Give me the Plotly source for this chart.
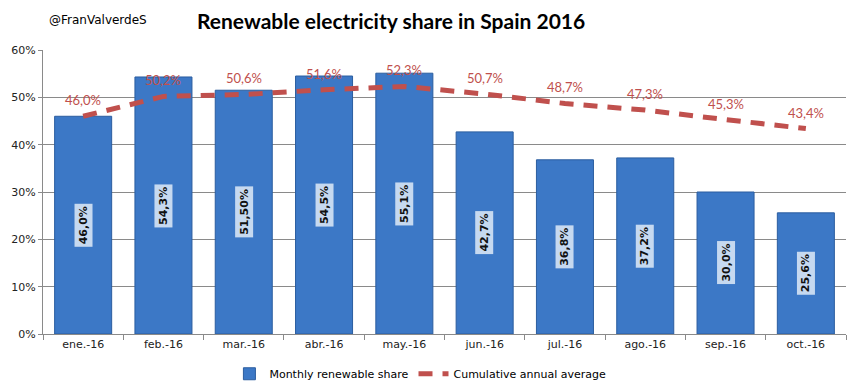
import plotly.graph_objects as go

months = ["ene.-16", "feb.-16", "mar.-16", "abr.-16", "may.-16",
          "jun.-16", "jul.-16", "ago.-16", "sep.-16", "oct.-16"]
monthly = [46.0, 54.3, 51.5, 54.5, 55.1, 42.7, 36.8, 37.2, 30.0, 25.6]
monthly_labels = ["46,0%", "54,3%", "51,50%", "54,5%", "55,1%",
                  "42,7%", "36,8%", "37,2%", "30,0%", "25,6%"]
cumulative = [46.0, 50.2, 50.6, 51.6, 52.3, 50.7, 48.7, 47.3, 45.3, 43.4]
cumulative_labels = ["46,0%", "50,2%", "50,6%", "51,6%", "52,3%",
                     "50,7%", "48,7%", "47,3%", "45,3%", "43,4%"]

mv = [v / 100 for v in monthly]
cv = [v / 100 for v in cumulative]

fig = go.Figure()
fig.add_trace(go.Bar(
    x=months, y=mv, name="Monthly renewable share",
    marker=dict(color="#3c78c6", line=dict(color="#2b5d9f", width=1)),
    width=0.71,
))
fig.add_trace(go.Scatter(
    x=months, y=cv, name="Cumulative annual average",
    mode="lines",
    line=dict(color="#c0504d", width=5, dash="14px,10px"),
))

for m, v, lab in zip(months, cv, cumulative_labels):
    fig.add_annotation(x=m, y=v, text=lab, showarrow=False, yshift=16,
                       font=dict(family="Lato", size=13, color="#c0504d"))

for m, v, lab in zip(months, mv, monthly_labels):
    fig.add_annotation(x=m, y=v / 2, text="<b>" + lab + "</b>", textangle=-90,
                       showarrow=False, bgcolor="#c6d9f0",
                       font=dict(family="DejaVu Sans", size=11, color="#111111"),
                       borderpad=2)

fig.add_annotation(xref="paper", yref="paper", x=0.433, y=1.0, yshift=30,
                   yanchor="middle",
                   text="<b>Renewable electricity share in Spain 2016</b>",
                   showarrow=False, font=dict(family="Lato", size=21, color="black"))
fig.add_annotation(xref="paper", yref="paper", x=0.005, y=1.0, yshift=30, xanchor="left",
                   yanchor="middle",
                   text="@FranValverdeS", showarrow=False,
                   font=dict(family="DejaVu Sans", size=12, color="black"))

fig.update_layout(
    width=847, height=378,
    margin=dict(l=35, r=9, t=42, b=52, autoexpand=False),
    paper_bgcolor="white", plot_bgcolor="white",
    bargap=0.29,
    showlegend=True,
    legend=dict(orientation="h", x=0.47, xanchor="center", y=-0.14, yanchor="middle",
                font=dict(family="DejaVu Sans", size=11, color="black"),
                traceorder="normal"),
    font=dict(family="DejaVu Sans", size=11, color="black"),
)
fig.update_yaxes(range=[0, 0.6], dtick=0.1, tickformat=".0%",
                 showgrid=True, gridcolor="#8a8a8a", gridwidth=1,
                 showline=True, linecolor="#8a8a8a", ticks="outside",
                 ticklen=4, tickcolor="#8a8a8a", zeroline=False,
                 tickfont=dict(family="DejaVu Sans", size=11, color="#222222"))
fig.update_xaxes(showline=True, linecolor="#8a8a8a", ticks="outside",
                 tickson="boundaries", ticklen=5, tickcolor="#8a8a8a",
                 tickfont=dict(family="DejaVu Sans", size=11, color="#222222"))

fig.write_html("out.html")
